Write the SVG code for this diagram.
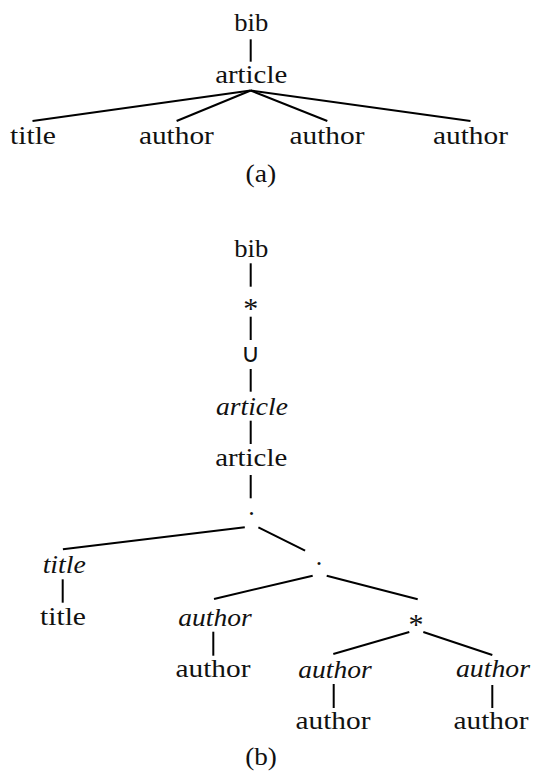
<svg xmlns="http://www.w3.org/2000/svg" width="533" height="773" viewBox="0 0 533 773">
<style>
text{font-family:"Liberation Serif",serif;font-size:26px;fill:#111;text-anchor:middle}
.i{font-style:italic}
.star{font-size:30px}
.sym{font-family:"DejaVu Sans",sans-serif;font-size:26px;font-weight:300}
#edges line{stroke:#000;stroke-width:2;stroke-linecap:butt}
</style>
<rect width="533" height="773" fill="#fff"/>
<g id="edges">
<line x1="250.7" y1="39.3" x2="250.7" y2="61.7"/>
<line x1="250.7" y1="90.5" x2="32.5" y2="121"/>
<line x1="250.7" y1="90.5" x2="176.6" y2="121"/>
<line x1="250.7" y1="90.5" x2="327.3" y2="121"/>
<line x1="250.7" y1="90.5" x2="470.5" y2="121"/>
<line x1="250.7" y1="263.3" x2="250.7" y2="286.7"/>
<line x1="250.7" y1="316.7" x2="250.7" y2="340"/>
<line x1="250.7" y1="369" x2="250.7" y2="391.7"/>
<line x1="250.7" y1="420.7" x2="250.7" y2="444"/>
<line x1="250.7" y1="475" x2="250.7" y2="498.3"/>
<line x1="244.8" y1="527.3" x2="62.9" y2="549.3"/>
<line x1="258.4" y1="527.3" x2="305.1" y2="550.7"/>
<line x1="62.7" y1="579.3" x2="62.7" y2="602.7"/>
<line x1="312.7" y1="575.7" x2="214" y2="599"/>
<line x1="326.7" y1="575.7" x2="417.7" y2="599.3"/>
<line x1="213.3" y1="631.7" x2="213.3" y2="655.7"/>
<line x1="409.3" y1="632" x2="333.3" y2="654"/>
<line x1="423.3" y1="632" x2="492.3" y2="655"/>
<line x1="333.7" y1="684" x2="333.7" y2="708"/>
<line x1="492.3" y1="685" x2="492.3" y2="708"/>
</g>
<g id="a-bib"><text x="251.3" y="30.7" textLength="34" lengthAdjust="spacingAndGlyphs">bib</text></g>
<g id="a-article"><text x="251.2" y="83.3" textLength="72" lengthAdjust="spacingAndGlyphs">article</text></g>
<g id="a-title"><text x="33" y="144" textLength="46" lengthAdjust="spacingAndGlyphs">title</text></g>
<g id="a-author1"><text x="176.4" y="144" textLength="75" lengthAdjust="spacingAndGlyphs">author</text></g>
<g id="a-author2"><text x="327" y="144" textLength="75" lengthAdjust="spacingAndGlyphs">author</text></g>
<g id="a-author3"><text x="470.5" y="144" textLength="75" lengthAdjust="spacingAndGlyphs">author</text></g>
<g id="cap-a"><text x="260.8" y="182" textLength="30.7" lengthAdjust="spacingAndGlyphs">(a)</text></g>
<g id="b-bib"><text x="251.3" y="256.7" textLength="34" lengthAdjust="spacingAndGlyphs">bib</text></g>
<g id="b-star1"><text class="star" x="250.7" y="318">*</text></g>
<g id="b-union"><text class="sym" x="250.8" y="362">∪</text></g>
<g id="b-article-i"><text class="i" x="252" y="415" textLength="72" lengthAdjust="spacingAndGlyphs">article</text></g>
<g id="b-article"><text x="251.2" y="466" textLength="72" lengthAdjust="spacingAndGlyphs">article</text></g>
<g id="b-dot1"><text x="251.6" y="515">.</text></g>
<g id="b-title-i"><text class="i" x="64.3" y="573" textLength="43.3" lengthAdjust="spacingAndGlyphs">title</text></g>
<g id="b-title"><text x="63" y="625" textLength="46" lengthAdjust="spacingAndGlyphs">title</text></g>
<g id="b-dot2"><text x="319" y="565">.</text></g>
<g id="b-author-i1"><text class="i" x="215" y="626" textLength="73.4" lengthAdjust="spacingAndGlyphs">author</text></g>
<g id="b-author1"><text x="213" y="677.3" textLength="75" lengthAdjust="spacingAndGlyphs">author</text></g>
<g id="b-star2"><text class="star" x="416" y="634">*</text></g>
<g id="b-author-i2"><text class="i" x="335" y="678" textLength="73.4" lengthAdjust="spacingAndGlyphs">author</text></g>
<g id="b-author2"><text x="333" y="729" textLength="75" lengthAdjust="spacingAndGlyphs">author</text></g>
<g id="b-author-i3"><text class="i" x="493" y="677" textLength="74" lengthAdjust="spacingAndGlyphs">author</text></g>
<g id="b-author3"><text x="491" y="728.5" textLength="75" lengthAdjust="spacingAndGlyphs">author</text></g>
<g id="cap-b"><text x="261" y="765" textLength="31.7" lengthAdjust="spacingAndGlyphs">(b)</text></g>
</svg>
